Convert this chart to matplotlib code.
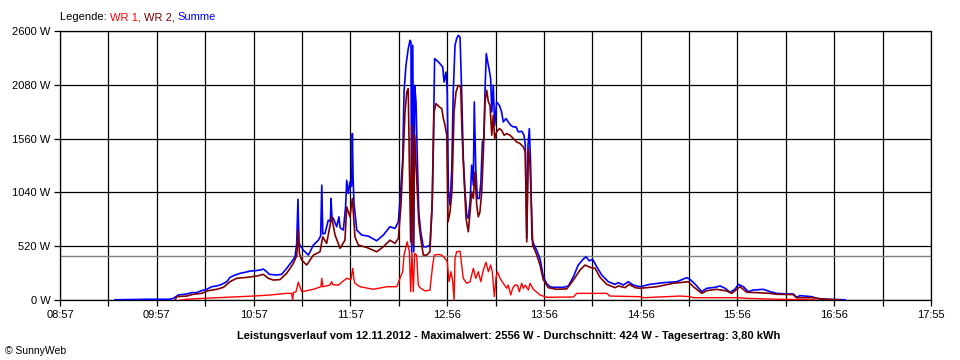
import matplotlib
matplotlib.use("Agg")
import matplotlib.pyplot as plt

# ---------------- data (minutes after 08:57, watts) ----------------
t_sum = [34.0, 55.6, 67.9, 70.0, 73.1, 78.3, 81.4, 84.4, 87.5, 90.6, 93.7, 96.8, 99.9, 103.0, 105.0,
         108.1, 111.2, 114.3, 117.4, 120.5, 123.5, 125.6, 127.7, 129.3, 133.9, 136.9, 140.0, 143.1,
         145.2, 146.2, 147.0, 147.6, 148.2, 150.3, 153.4, 156.5, 159.6, 161.0, 161.7, 162.3, 163.7,
         165.7, 167.0, 167.4, 168.0, 168.8, 170.9, 172.3, 173.0, 175.0, 176.4, 177.1, 178.1, 179.1,
         180.1, 180.6, 181.0, 181.6, 183.3, 186.4, 190.4, 195.6, 199.7, 203.8, 206.9, 209.0, 210.4,
         211.7, 212.5, 213.7, 215.1, 216.2, 216.8, 217.2, 217.9, 218.5, 219.1, 219.9, 220.7, 221.6,
         222.8, 224.4, 226.5, 228.5, 229.8, 230.6, 231.4, 232.7, 234.7, 236.4, 237.2, 238.4, 239.2,
         239.9, 240.9, 242.0, 242.9, 244.0, 245.0, 246.0, 247.1, 248.1, 249.1, 250.2, 251.2, 252.2,
         253.3, 254.3, 255.3, 255.9, 256.8, 257.8, 259.0, 260.0, 260.9, 261.9, 262.5, 263.3, 264.2,
         265.0, 266.0, 266.7, 267.6, 268.5, 269.7, 271.4, 272.8, 273.8, 275.5, 276.9, 278.4, 280.0,
         281.7, 283.1, 285.2, 286.6, 287.4, 288.3, 289.1, 289.9, 290.7, 291.5, 292.4, 294.5, 296.5,
         298.5, 300.6, 302.7, 304.7, 310.9, 314.0, 317.1, 320.1, 323.2, 324.9, 326.9, 329.0, 331.5,
         334.6, 338.7, 342.8, 344.9, 347.9, 351.0, 354.1, 358.3, 364.4, 372.7, 380.9, 387.1, 389.1,
         392.2, 396.4, 399.5, 404.6, 407.7, 410.8, 413.9, 416.9, 419.0, 422.1, 425.2, 428.2, 434.4,
         438.6, 442.7, 448.9, 452.9, 455.0, 457.1, 464.3, 467.4, 473.6, 484.9]
summe = [5, 10, 10, 19, 51, 61, 74, 74, 93, 106, 131, 138, 154, 179, 221,
         244, 260, 270, 282, 285, 292, 301, 276, 250, 244, 250, 308, 372,
         420, 549, 975, 560, 532, 484, 436, 532, 580, 620, 1110, 640, 645,
         773, 760, 982, 800, 790, 709, 805, 700, 677, 900, 1158, 1030, 1142,
         1100, 1608, 1200, 934, 677, 629, 619, 574, 629, 709, 693, 757, 1046,
         1367, 2009, 2266, 2427, 2507, 2490, 468, 2459, 468, 2073, 1912, 1367, 853,
         661, 516, 516, 532, 886, 1527, 2330, 2314, 2282, 2250, 2105, 2201, 2009,
         1046, 918, 1271, 2009, 2459, 2523, 2555, 2539, 2009, 1367, 1046, 821, 790,
         950, 1303, 1110, 1912, 1271, 982, 982, 1142, 1527, 1560, 2009, 2379, 2298,
         2234, 2138, 1816, 2073, 1688, 1912, 1881, 1816, 1720, 1753, 1720, 1688, 1672,
         1672, 1624, 1630, 1592, 1495, 597, 1500, 1656, 1303, 597, 549, 480, 400,
         230, 160, 131, 125, 125, 138, 227, 340, 398, 420, 381, 395, 324,
         244, 179, 154, 170, 147, 179, 147, 131, 154, 170, 179, 218, 202,
         157, 83, 116, 125, 138, 116, 77, 106, 154, 131, 83, 99, 106,
         83, 67, 61, 61, 29, 45, 35, 19, 10, 5]

t_wr2 = [71.0, 72.1, 78.3, 82.3, 87.5, 91.6, 96.8, 100.9, 105.0, 109.1, 115.3, 121.5, 125.6, 128.7,
         131.8, 135.9, 140.0, 142.1, 144.1, 146.2, 147.2, 147.9, 149.3, 152.4, 156.5, 160.6, 162.3,
         164.7, 167.8, 169.9, 173.0, 176.0, 177.1, 179.1, 180.6, 182.2, 184.3, 189.4, 195.6, 199.7,
         203.8, 206.9, 209.0, 210.6, 212.1, 213.1, 214.2, 215.1, 215.8, 216.6, 217.4, 218.2, 219.1,
         220.3, 221.6, 222.8, 224.4, 226.5, 228.5, 230.0, 231.0, 232.3, 234.3, 235.8, 236.8, 237.8,
         238.9, 239.7, 240.9, 242.1, 243.4, 244.6, 246.0, 247.5, 248.3, 249.5, 250.8, 252.2, 253.3,
         254.3, 255.3, 256.3, 257.4, 258.4, 259.4, 260.5, 261.5, 262.5, 263.6, 264.6, 265.6, 266.7,
         267.6, 268.5, 269.7, 271.4, 272.8, 274.3, 275.9, 278.0, 280.0, 282.1, 284.1, 286.2, 287.4,
         288.3, 289.3, 290.3, 292.0, 294.5, 296.5, 298.5, 301.6, 306.8, 313.0, 317.1, 321.2, 324.3,
         327.4, 330.5, 333.6, 337.7, 342.8, 344.9, 349.0, 351.6, 355.2, 358.3, 368.6, 378.8, 388.1,
         391.2, 396.4, 399.5, 405.6, 411.8, 414.9, 418.0, 420.0, 424.2, 430.3, 438.6, 442.7, 452.9,
         455.0, 465.3, 469.4, 475.6, 481.8]
wr2 = [0, 35, 41, 58, 67, 93, 106, 125, 179, 212, 221, 234, 250, 212,
       195, 200, 260, 308, 356, 430, 677, 450, 388, 340, 436, 468, 612,
       549, 805, 629, 501, 580, 901, 805, 982, 612, 532, 510, 468, 516,
       580, 549, 597, 918, 1431, 1816, 2009, 2041, 1303, 564, 1688, 532, 1592,
       1175, 757, 597, 436, 436, 468, 982, 1816, 1897, 1865, 1849, 1753, 1688,
       1592, 757, 853, 1046, 1816, 2009, 2073, 2057, 1624, 1207, 790, 661, 853,
       1046, 982, 1238, 918, 805, 853, 1046, 1431, 1912, 2025, 1912, 1881, 1592,
       1784, 1560, 1624, 1656, 1640, 1592, 1608, 1592, 1560, 1527, 1512, 1479, 1431,
       564, 1463, 1303, 532, 436, 340, 200, 122, 106, 110, 195, 292, 340,
       318, 308, 221, 154, 122, 138, 122, 154, 122, 116, 131, 164, 179,
       131, 67, 93, 106, 90, 67, 106, 131, 77, 74, 67, 58, 55,
       25, 25, 13, 8, 5]

t_wr1 = [74.1, 78.3, 88.5, 103.0, 119.4, 129.7, 140.0, 143.1, 143.7, 144.2, 145.8, 147.2, 149.3,
         154.4, 156.5, 161.2, 161.7, 162.3, 166.8, 167.8, 168.6, 171.9, 177.1, 179.7, 180.8, 181.6,
         182.2, 185.3, 193.5, 201.8, 208.0, 210.0, 211.7, 212.5, 213.7, 214.5, 215.8, 216.6, 217.4,
         218.2, 219.1, 220.3, 221.3, 222.8, 225.5, 228.5, 230.2, 231.2, 233.7, 235.8, 237.8, 239.2,
         240.3, 241.5, 242.6, 243.4, 244.0, 245.0, 247.1, 248.1, 249.1, 251.2, 253.3, 255.3, 256.8,
         258.4, 259.9, 261.5, 263.1, 264.6, 266.0, 267.0, 268.3, 269.3, 270.1, 271.8, 273.8, 275.9,
         276.9, 278.4, 279.6, 281.0, 282.5, 283.7, 285.2, 286.2, 287.4, 289.3, 290.3, 292.4, 296.5,
         300.6, 317.1, 319.2, 337.7, 339.7, 358.3, 360.3, 383.0, 389.1, 391.2, 418.0, 424.2, 442.7,
         465.3, 467.0]
wr1 = [0, 10, 19, 29, 41, 51, 67, 67, 0, 75, 83, 175, 83,
       99, 106, 131, 212, 131, 147, 179, 150, 147, 212, 200, 308, 200,
       164, 131, 106, 131, 131, 212, 276, 436, 516, 564, 468, 83, 468,
       83, 452, 436, 147, 116, 90, 99, 340, 436, 443, 436, 404, 372,
       179, 276, 179, 0, 404, 468, 474, 340, 212, 164, 179, 308, 212,
       276, 179, 292, 366, 276, 340, 276, 35, 212, 276, 212, 164, 116,
       147, 51, 116, 147, 147, 83, 164, 116, 147, 99, 164, 106, 51,
       29, 32, 67, 67, 41, 35, 25, 41, 35, 25, 25, 19, 10,
       6, 0]

average = 424
y_ticks = [0, 520, 1040, 1560, 2080, 2600]
x_labels = ["08:57", "09:57", "10:57", "11:57", "12:56", "13:56", "14:56", "15:56", "16:56", "17:55"]
x_span = 538  # minutes from 08:57 to 17:55

# ---------------- figure ----------------
W, H = 960, 360
fig = plt.figure(figsize=(W / 100, H / 100), dpi=100)
fig.patch.set_facecolor("white")
L, R, T, B = 60, 931, 30.7, 300.3
ax = fig.add_axes([L / W, 1 - B / H, (R - L) / W, (B - T) / H])

font = "Liberation Sans"

ax.set_xlim(0, x_span)
ax.set_ylim(0, 2600)

n_ticks = 19
xt = [i * x_span / (n_ticks - 1) for i in range(n_ticks)]
ax.set_xticks(xt)
ax.set_xticklabels([x_labels[i // 2] if i % 2 == 0 else "" for i in range(n_ticks)])
ax.set_yticks(y_ticks)
ax.set_yticklabels([f"{v} W" for v in y_ticks])

ax.grid(True, color="black", linewidth=0.9)
ax.set_axisbelow(True)
for s in ax.spines.values():
    s.set_color("black")
    s.set_linewidth(0.9)
ax.tick_params(axis="both", length=4, width=0.9, color="black", direction="out",
               labelsize=8, pad=3)
for lab in ax.get_xticklabels() + ax.get_yticklabels():
    lab.set_fontfamily(font)

ax.axhline(average, color="#808080", linewidth=1.0, zorder=2)

ax.plot(t_sum, summe, color="#0000FF", linewidth=1.2, zorder=3)
ax.plot(t_wr2, wr2, color="#800000", linewidth=1.2, zorder=4)
ax.plot(t_wr1, wr1, color="#FF0000", linewidth=1.0, zorder=5)

# legend line at top
renderer = fig.canvas.get_renderer()
x = L / W
for txt, col in [("Legende: ", "black"), ("WR 1, ", "#FF0000"), ("WR 2, ", "#800000"), ("Summe", "#0000FF")]:
    t = fig.text(x, 1 - 17 / H, txt, color=col, fontsize=8, family=font, va="center", ha="left")
    bb = t.get_window_extent(renderer=renderer)
    x += bb.width / W

title = fig.text(509 / W, 1 - 336 / H,
                 "Leistungsverlauf vom 12.11.2012 - Maximalwert: 2556 W - Durchschnitt: 424 W - Tagesertrag: 3,80 kWh",
                 fontsize=8, fontweight="bold", family=font, ha="center", va="center")
fig.text(5 / W, 1 - 351 / H, "\u00a9 SunnyWeb", fontsize=7.5, family=font, ha="left", va="center")

fig.savefig("out.png", dpi=100, facecolor="white")
